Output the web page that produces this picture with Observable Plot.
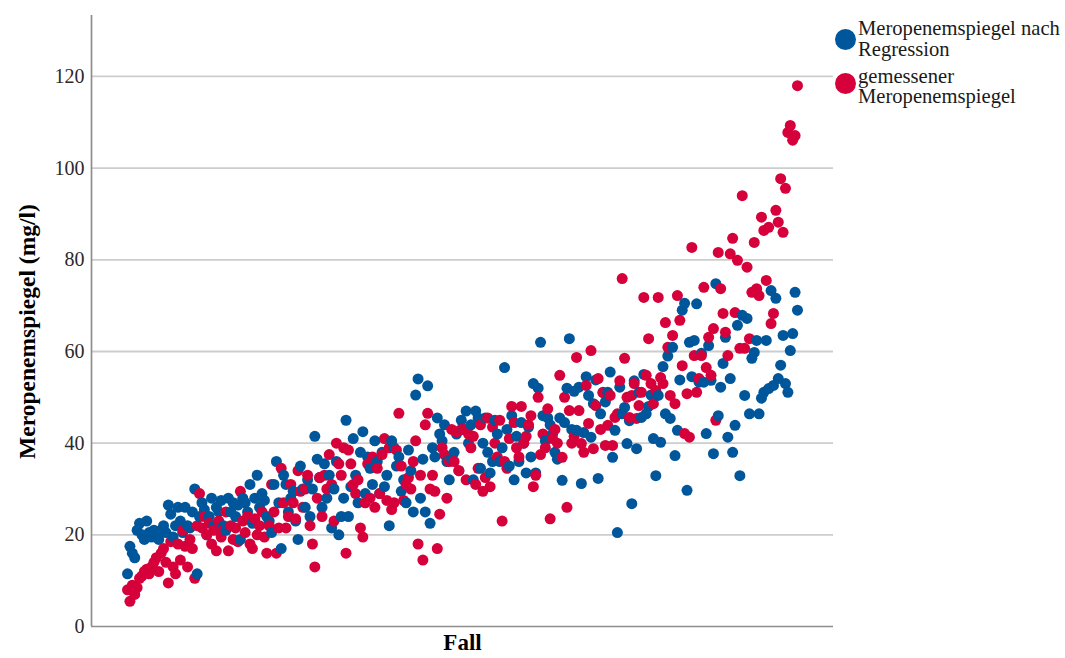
<!DOCTYPE html>
<html>
<head>
<meta charset="utf-8">
<script src="https://cdn.jsdelivr.net/npm/d3@7"></script>
<script src="https://cdn.jsdelivr.net/npm/@observablehq/plot@0.6"></script>
<style>
  html, body { margin: 0; padding: 0; background: #fff; }
  #wrap { position: relative; width: 1065px; height: 658px; font-family: "Liberation Serif", "Times New Roman", serif; }
  .lg-dot { position: absolute; width: 21px; height: 21px; border-radius: 50%; }
  .lg-txt { position: absolute; left: 858px; font-size: 20.6px; line-height: 20.5px; color: #1a1a1a; white-space: nowrap; }
</style>
</head>
<body>
<div id="wrap"></div>
<script>
// Series names (legend)
const seriesNames = ["Meropenemspiegel nach Regression", "gemessener Meropenemspiegel"];
const seriesColors = ["#00569a", "#d6003a"];

// Meropenemspiegel nach Regression (mg/l), per case (Fall) in plotted order
const regression = [
  11.5, 17.5, 16, 15, 21, 22.5, 20, 19, 23, 20.5, 19.5, 21, 20, 19, 21, 22, 20.5, 26.5, 24.5, 19.5,
  22, 26, 23, 20.5, 26, 22, 21.5, 25, 30, 11.5, 24, 27, 25.5, 20, 24, 28, 22, 26, 25, 27.5,
  22, 21, 28, 25, 27, 24, 26.5, 19, 28, 27, 25, 31, 22.5, 28, 33, 26, 29, 27.5, 24, 23,
  20.5, 31, 36, 27, 17, 33, 31, 25, 28, 29.5, 23, 19, 35, 30, 26, 32, 24, 30, 41.5, 36.5,
  32.5, 26, 35.5, 28, 33, 21.5, 30, 36, 20, 24, 28, 45, 24, 30.5, 41, 33, 27, 38, 42.5, 29,
  37, 34.5, 31, 40.5, 36, 29, 38, 30.5, 33, 22, 40.5, 39, 35, 37, 29.5, 32, 27, 38.5, 34, 25,
  50.5, 54, 28, 36.5, 25, 52.5, 22.5, 39, 37, 45.5, 42, 40.5, 44, 36, 32, 36.5, 38, 42, 34, 45,
  43, 47, 40, 44, 32, 47, 45.5, 34.5, 40, 45.5, 38, 33.5, 36, 45, 42, 36, 39, 56.5, 43, 35,
  46, 32, 41.5, 36, 44.5, 40, 33.5, 43.5, 37, 53, 33.5, 52, 62, 46, 40.5, 45.5, 44, 42, 38, 36.5,
  45.5, 31.9, 44.5, 52, 62.8, 43, 51.3, 42.8, 52.2, 31.2, 42.3, 54.5, 50.4, 41.3, 48.6, 53.8, 32.3, 46.4, 51.1, 49,
  51.1, 55.5, 36.9, 42.8, 20.5, 52.2, 46.4, 47.8, 39.9, 44.9, 26.8, 53.6, 38.8, 51.1, 45.6, 55, 46.4, 48, 50.5, 41,
  32.9, 50.4, 40.2, 56.7, 46.4, 59, 45.4, 60.9, 37.3, 42.8, 53.8, 69, 70.5, 29.7, 62, 54.5, 62.4, 70.4, 53.3, 59.6,
  53.3, 42.1, 61.3, 53.7, 37.7, 74.8, 46, 52.2, 57.4, 63.1, 41.3, 54.1, 38, 43.9, 65.7, 32.9, 67.9, 50.4, 67.2, 46.4,
  58.5, 59.8, 62.4, 46.4, 49.8, 51.1, 62.4, 51.9, 73.3, 52.6, 71.6, 54.1, 57, 63.5, 53, 51.1, 60.2, 63.9, 72.9, 69
];

// gemessener Meropenemspiegel (mg/l), per case
const measured = [
  8, 5.5, 9, 7, 8.5, 10.5, 11, 12, 12.5, 11.5, 13, 14, 15, 12, 16, 17, 14, 9.5, 18.5, 13,
  11.5, 18, 14.5, 21, 17.5, 13, 19, 17, 10.5, 22, 29, 21.5, 24, 20, 22.5, 18, 21, 16.5, 23, 19.5,
  21, 25, 16.5, 22, 19, 21.5, 18.5, 29.5, 23, 20.5, 24, 18, 17, 23.5, 20, 22, 25, 19.5, 16, 22,
  31, 25, 16, 21.5, 34.5, 27, 21.5, 24, 31, 27, 23.5, 34, 29.5, 26, 30, 33, 22, 18, 13, 28,
  32.5, 24, 33, 30, 37.5, 31, 23, 40, 35.5, 33, 39, 16, 38.5, 35.5, 31, 29, 32, 21.5, 19.5, 27,
  35.5, 28, 37, 26, 34.5, 29, 37.5, 41, 27.5, 39, 25.5, 27, 38.5, 46.5, 35, 27.5, 31, 32.5, 30, 36,
  40.5, 18, 33, 14.5, 44, 46.5, 30, 33, 29.5, 17, 24.5, 39, 37.5, 28, 36, 43, 36, 42.5, 34, 43,
  43, 32, 42, 39, 41.5, 31, 34.5, 44, 29.5, 32.5, 45.5, 30.5, 43.5, 40, 37, 45, 23, 36, 34.5, 41,
  48, 44.5, 39, 37, 48, 40, 41.5, 44, 46, 30.5, 33, 50, 37.5, 42, 39, 47.5, 23.5, 41, 43, 40,
  54.8, 36.9, 50, 26, 47.1, 40, 41.5, 58.7, 47.1, 39.9, 38, 52.6, 44.3, 60.2, 38.8, 48.2, 54.1, 43, 51, 39.5,
  43.9, 50.4, 39.5, 45.6, 46.4, 53.6, 75.9, 58.5, 50, 45.6, 50.4, 53, 45.4, 48.2, 51.1, 71.8, 54.8, 62.8, 53, 48.6,
  51.5, 71.8, 54.3, 53, 66.3, 60.9, 50.4, 63.5, 48.6, 72.2, 66.8, 56.9, 42.1, 50.8, 41.3, 82.7, 59.1, 51.1, 54.1, 59.1,
  74, 56.5, 63.1, 54.8, 65, 45, 81.6, 73.7, 68.3, 64.2, 59.1, 81.3, 84.7, 68.5, 79.9, 60.7, 94, 60.7, 78.4, 62.8,
  72.9, 83.8, 73.7, 72.2, 89.3, 86.4, 75.5, 87.1, 66.1, 68.3, 90.8, 88.2, 97.7, 86, 95.6, 107.8, 109.3, 106.1, 107.1, 118
];

// Y axis ticks
const yTicks = [0, 20, 40, 60, 80, 100, 120];
const yLabel = "Meropenemspiegel (mg/l)";
const xLabel = "Fall";

// Build long table (interleaved per case so overlaps mix like the original)
const rows = [];
for (let i = 0; i < regression.length; i++) {
  rows.push({fall: i, value: regression[i], series: seriesNames[0]});
  rows.push({fall: i, value: measured[i], series: seriesNames[1]});
}
const n = regression.length;

const chart = Plot.plot({
  width: 1065,
  height: 658,
  marginLeft: 91,
  marginRight: 232,
  marginTop: 15,
  marginBottom: 32,
  style: {fontFamily: "'Liberation Serif', 'Times New Roman', serif", background: "#fff"},
  x: {domain: [-15, n - 1 + 15], axis: null},
  y: {domain: [0, 133.3], axis: null},
  color: {domain: seriesNames, range: seriesColors},
  marks: [
    Plot.ruleY(yTicks.filter(d => d > 0), {stroke: "#cdcdcd", strokeWidth: 1.8}),
    Plot.axisY(yTicks, {anchor: "left", tickSize: 0, tickPadding: 7, fontSize: 20, color: "#2a2a2a", label: null}),
    Plot.ruleY([0], {stroke: "#8e8e8e", strokeWidth: 1.7}),
    Plot.ruleX([-15], {stroke: "#8e8e8e", strokeWidth: 1.7}),
    Plot.dot(rows, {x: "fall", y: "value", fill: "series", r: 5.5, stroke: "none"}),
    Plot.text([xLabel], {frameAnchor: "bottom", textAnchor: "middle", dy: 23, fontSize: 23, fontWeight: "bold", fill: "#000"}),
    Plot.text([yLabel], {frameAnchor: "left", textAnchor: "middle", dx: -64, dy: 10.5, rotate: -90, fontSize: 23.5, fontWeight: "bold", fill: "#000"})
  ]
});

const wrap = document.getElementById("wrap");
chart.style.position = "absolute";
chart.style.left = "0px";
chart.style.top = "0px";
wrap.appendChild(chart);

// Legend
const legend = [
  {color: seriesColors[0], lines: ["Meropenemspiegel nach", "Regression"], dotTop: 28.5, textTop: 18},
  {color: seriesColors[1], lines: ["gemessener", "Meropenemspiegel"], dotTop: 72.5, textTop: 65.5}
];
legend.forEach((d, k) => {
  const dot = document.createElement("div");
  dot.className = "lg-dot";
  dot.style.left = "835px";
  dot.style.top = d.dotTop + "px";
  dot.style.background = d.color;
  wrap.appendChild(dot);
  const t = document.createElement("div");
  t.className = "lg-txt";
  t.style.top = d.textTop + "px";
  t.innerHTML = d.lines.join("<br>");
  wrap.appendChild(t);
});
</script>
</body>
</html>
